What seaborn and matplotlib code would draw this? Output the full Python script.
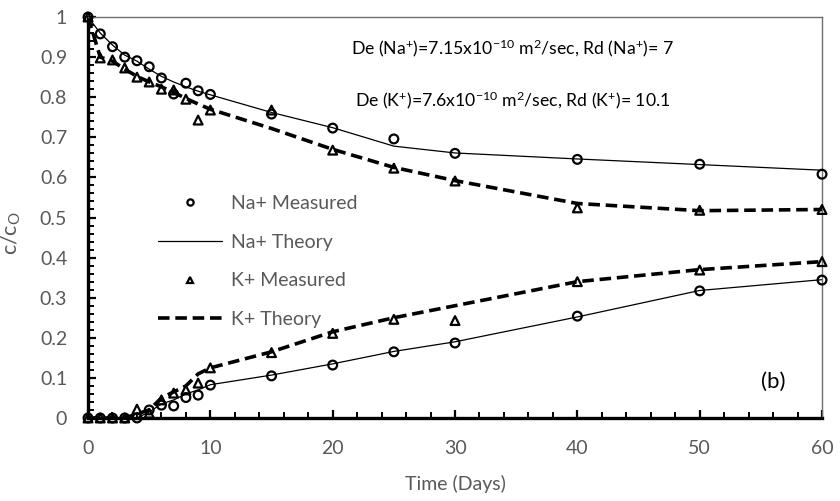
import matplotlib
matplotlib.use("Agg")
import matplotlib.pyplot as plt
from matplotlib.ticker import MultipleLocator
from matplotlib.lines import Line2D
import numpy as np
import pandas as pd
import seaborn as sns

# Sampling times (days)
days = [0, 1, 2, 3, 4, 5, 6, 7, 8, 9, 10, 15, 20, 25, 30, 40, 50, 60]

# Reservoir (upper) concentrations
na_meas_up = [1.0, 0.958, 0.926, 0.900, 0.891, 0.876, 0.848, 0.808, 0.835, 0.816, 0.807,
              0.758, 0.723, 0.696, 0.660, 0.645, 0.633, 0.608]
na_theo_up = [1.0, 0.960, 0.930, 0.905, 0.890, 0.870, 0.852, 0.838, 0.826, 0.815, 0.806,
              0.762, 0.724, 0.678, 0.661, 0.646, 0.632, 0.618]
k_meas_up = [1.0, 0.898, 0.893, 0.873, 0.850, 0.838, 0.820, 0.818, 0.795, 0.743, 0.768,
             0.768, 0.668, 0.623, 0.591, 0.524, 0.518, 0.520]
k_theo_up = [1.0, 0.900, 0.890, 0.870, 0.852, 0.838, 0.826, 0.812, 0.797, 0.783, 0.770,
             0.722, 0.670, 0.625, 0.592, 0.535, 0.517, 0.520]

# Receiving (lower) concentrations
na_meas_lo = [0.0, 0.0, 0.0, 0.0, 0.0, 0.020, 0.032, 0.030, 0.051, 0.057, 0.082,
              0.105, 0.132, 0.165, 0.187, 0.254, 0.317, 0.344]
na_theo_lo = [0.0, 0.0, 0.0, 0.0, 0.0, 0.015, 0.035, 0.045, 0.060, 0.070, 0.083,
              0.107, 0.135, 0.166, 0.190, 0.252, 0.318, 0.345]
k_meas_lo = [0.0, 0.0, 0.0, 0.0, 0.022, 0.012, 0.045, 0.062, 0.070, 0.087, 0.125,
             0.163, 0.211, 0.246, 0.243, 0.340, 0.369, 0.390]
k_theo_lo = [0.0, 0.0, 0.0, 0.0, 0.010, 0.020, 0.050, 0.065, 0.080, 0.110, 0.125,
             0.165, 0.215, 0.250, 0.280, 0.340, 0.370, 0.390]

x_ticks = [0, 10, 20, 30, 40, 50, 60]
y_ticks = [0, 0.1, 0.2, 0.3, 0.4, 0.5, 0.6, 0.7, 0.8, 0.9, 1]
y_tick_labels = ["0", "0.1", "0.2", "0.3", "0.4", "0.5", "0.6", "0.7", "0.8", "0.9", "1"]

sns.set_style("white")
plt.rcParams["font.family"] = ["Lato", "DejaVu Sans"]
plt.rcParams["mathtext.fontset"] = "custom"
plt.rcParams["mathtext.rm"] = "Lato"
plt.rcParams["mathtext.it"] = "Lato:italic"

GRAY = "#595959"
DASH = (0, (3.2, 1.6))

fig = plt.figure(figsize=(8.4, 5.01), dpi=100)
ax = fig.add_axes([0.1048, 0.1657, 0.8738, 0.8003])

def frame(vals):
    return pd.DataFrame({"t": days, "c": vals})

# Theory curves
for vals, ls, lw in [(na_theo_up, "-", 0.9), (na_theo_lo, "-", 0.9),
                     (k_theo_up, DASH, 2.6), (k_theo_lo, DASH, 2.6)]:
    sns.lineplot(data=frame(vals), x="t", y="c", ax=ax, color="black",
                 linestyle=ls, linewidth=lw, legend=False, zorder=2)

# Measured points
for vals in [na_meas_up, na_meas_lo]:
    sns.scatterplot(data=frame(vals), x="t", y="c", ax=ax, marker="o", s=40,
                    facecolor="none", edgecolor="black", linewidth=1.6, legend=False,
                    zorder=3, clip_on=False)
for vals in [k_meas_up, k_meas_lo]:
    sns.scatterplot(data=frame(vals), x="t", y="c", ax=ax, marker="^", s=40,
                    facecolor="none", edgecolor="black", linewidth=1.6, legend=False,
                    zorder=3, clip_on=False)

ax.set_xlim(0, 60)
ax.set_ylim(0, 1)
ax.set_xticks(x_ticks)
ax.set_xticklabels([str(v) for v in x_ticks])
ax.set_yticks(y_ticks)
ax.set_yticklabels(y_tick_labels)
ax.xaxis.set_minor_locator(MultipleLocator(2))
ax.yaxis.set_minor_locator(MultipleLocator(0.02))
ax.tick_params(axis="both", which="major", direction="in", length=6, width=1.6,
               labelsize=14, labelcolor=GRAY, color="black")
ax.tick_params(axis="x", which="major", pad=16)
ax.tick_params(axis="y", which="major", pad=15)
ax.tick_params(axis="both", which="minor", direction="in", length=4, width=1.4, color="black")
ax.tick_params(axis="x", which="both", bottom=True, top=False)
ax.tick_params(axis="y", which="both", left=True, right=False)

for side in ["left", "bottom"]:
    ax.spines[side].set_color("black")
    ax.spines[side].set_linewidth(2.4)
for side in ["top", "right"]:
    ax.spines[side].set_color("#6f6f6f")
    ax.spines[side].set_linewidth(1.0)

ax.set_xlabel("Time (Days)", fontsize=14, color=GRAY, labelpad=13)
ax.set_ylabel(r"c/c$_{\rm O}$", fontsize=15.5, color=GRAY, labelpad=3)
ax.yaxis.set_label_coords(-0.088, 0.46)

ax.text(0.578, 0.923, r"De (Na$^{+}$)=7.15x10$^{-10}$ m$^{2}$/sec, Rd (Na$^{+}$)= 7",
        transform=ax.transAxes, ha="center", va="center", fontsize=12.7, color="black")
ax.text(0.578, 0.793, r"De (K$^{+}$)=7.6x10$^{-10}$ m$^{2}$/sec, Rd (K$^{+}$)= 10.1",
        transform=ax.transAxes, ha="center", va="center", fontsize=12.7, color="black")
ax.text(0.934, 0.09, "(b)", transform=ax.transAxes, ha="center", va="center",
        fontsize=16, color="black")

handles = [
    Line2D([], [], marker="o", linestyle="none", markersize=4.5, markerfacecolor="none",
           markeredgecolor="black", markeredgewidth=1.6),
    Line2D([], [], color="black", linewidth=0.9),
    Line2D([], [], marker="^", linestyle="none", markersize=4.5, markerfacecolor="none",
           markeredgecolor="black", markeredgewidth=1.6),
    Line2D([], [], color="black", linewidth=2.6, linestyle=DASH),
]
labels = ["Na+ Measured", "Na+ Theory", "K+ Measured", "K+ Theory"]
leg = ax.legend(handles, labels, loc="upper left", bbox_to_anchor=(0.085, 0.575),
                frameon=False, fontsize=14, handlelength=3.3, handletextpad=0.45,
                labelspacing=1.11, borderaxespad=0)
for t in leg.get_texts():
    t.set_color(GRAY)

fig.savefig("out.png", dpi=100)
